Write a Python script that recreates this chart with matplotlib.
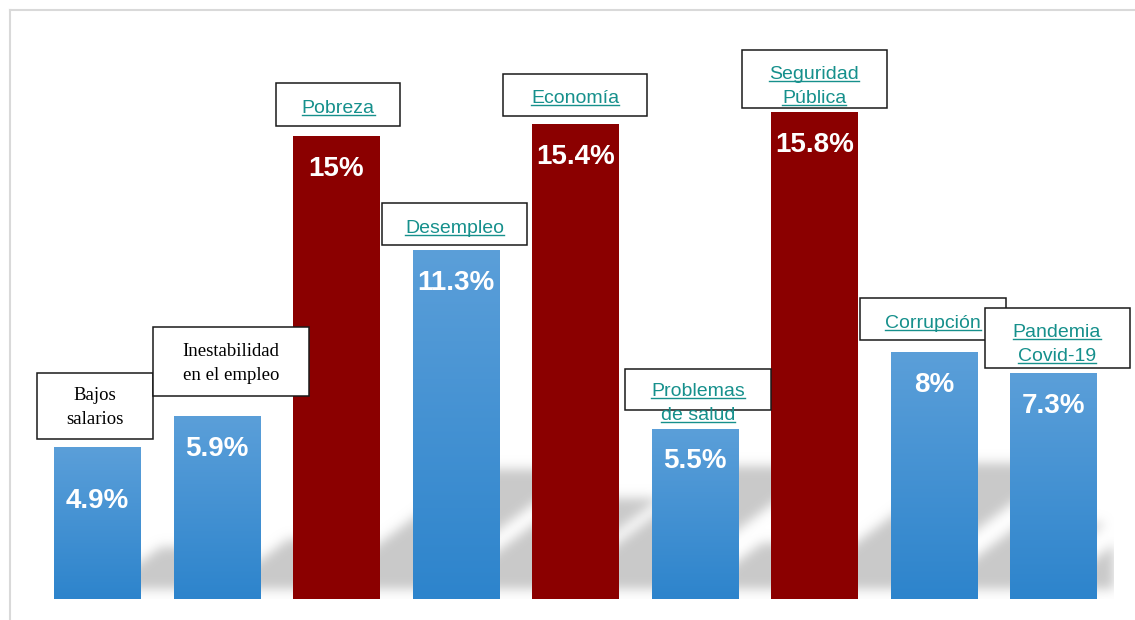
import numpy as np
import matplotlib
matplotlib.use("Agg")
import matplotlib.pyplot as plt
from matplotlib.colors import LinearSegmentedColormap
from matplotlib.patches import Rectangle
from matplotlib.lines import Line2D
from matplotlib.transforms import IdentityTransform

# datos
labels = ["Bajos\nsalarios", "Inestabilidad\nen el empleo", "Pobreza", "Desempleo",
          "Economía", "Problemas\nde salud", "Seguridad\nPública", "Corrupción",
          "Pandemia\nCovid-19"]
values = [4.9, 5.9, 15, 11.3, 15.4, 5.5, 15.8, 8, 7.3]
value_text = ["4.9%", "5.9%", "15%", "11.3%", "15.4%", "5.5%", "15.8%", "8%", "7.3%"]
highlight = [False, False, True, False, True, False, True, False, False]

# estilo / posiciones de las cajas (pixeles): dx, hueco sobre la barra, ancho, alto, dy texto
box_layout = [(-2.5, 9, 116, 66, -2), (14, 21, 156, 69, -2), (1.5, 10, 124, 43, -4),
              (-1.5, 5, 145, 42, -4), (-0.5, 8, 144, 42, -4), (3, 19, 146, 41, -14),
              (-0.5, 4, 145, 58, -8), (-1, 12, 146, 42, -4), (3.5, 6, 145, 60, -7)]
serif_label = [True, True, False, False, False, False, False, False, False]
value_dy = [-53, -32, -33, -33, -33, -32, -33, -33, -32]

RED = "#8B0000"
TEAL = "#16908C"
BLUE_TOP = "#5B9FD9"
BLUE_BOT = "#2D84CC"

W, H, DPI = 1135, 620, 100
fig = plt.figure(figsize=(W / DPI, H / DPI), dpi=DPI)
fig.patch.set_facecolor("white")

# ejes: base en y=599 px, 30.85 px por unidad, 119.5 px entre barras
pxu_x, pxu_y = 119.5, 30.85
n = len(values)
ax_left = 97.5 - pxu_x / 2
ax_w = n * pxu_x
ax_bottom = H - 599
ax_h = 584
ax = fig.add_axes([ax_left / W, ax_bottom / H, ax_w / W, ax_h / H])
ax.set_axis_off()
ytop = ax_h / pxu_y

x = np.arange(n)
bw = 0.72

# sombra difusa (perspectiva) detras de las barras
nx, ny = int(round(ax_w)), int(round(ax_h))
gx = np.arange(nx) + 0.5
gy = np.arange(ny) + 0.5
GX, GY = np.meshgrid(gx, gy)
mask = np.zeros((ny, nx))
s = 0.75
for i, v in enumerate(values):
    cx = (i + 0.5) * pxu_x
    R = cx + bw * pxu_x / 2
    h = v * pxu_y
    tr = 28 + 0.06 * h
    xl = R - tr / s
    xr = R + 27
    hmax = 0.25 * h + 14
    m = (GY >= s * (GX - xr)) & (GY <= s * (GX - xl)) & (GY <= hmax) & (GY >= 10) & (GX >= cx - 43)
    mask = np.maximum(mask, m.astype(float))

sig = 5.5
k = np.arange(-16, 17)
kern = np.exp(-k ** 2 / (2 * sig ** 2))
kern /= kern.sum()
mask = np.apply_along_axis(lambda r: np.convolve(r, kern, mode="same"), 1, mask)
mask = np.apply_along_axis(lambda c: np.convolve(c, kern, mode="same"), 0, mask)
shadow = np.zeros((ny, nx, 4))
shadow[..., :3] = 0.79
shadow[..., 3] = np.clip(mask, 0, 1)
ax.imshow(shadow, extent=(-0.5, n - 0.5, 0, ytop), origin="lower", aspect="auto",
          zorder=1, interpolation="bilinear")

# barras
colors = [RED if hl else BLUE_BOT for hl in highlight]
ax.bar(x, values, width=bw, color=colors, zorder=2)
cmap = LinearSegmentedColormap.from_list("azul", [BLUE_BOT, BLUE_TOP])
grad = np.linspace(0, 1, 256).reshape(-1, 1)
for i, v in enumerate(values):
    if not highlight[i]:
        ax.imshow(grad, extent=(i - bw / 2, i + bw / 2, 0, v), origin="lower",
                  aspect="auto", cmap=cmap, zorder=2.5, interpolation="bilinear")

ax.set_xlim(-0.5, n - 0.5)
ax.set_ylim(0, ytop)

# porcentajes
for i, v in enumerate(values):
    ax.annotate(value_text[i], (i, v), xytext=(0, value_dy[i]), textcoords="offset pixels",
                ha="center", va="center", color="white", fontsize=20,
                fontweight="bold", family="Liberation Sans", zorder=5)

# cajas de etiquetas
fig.canvas.draw()
ident = IdentityTransform()
underline_texts = []
for i, v in enumerate(values):
    dx, gap, bwid, bh, tdy = box_layout[i]
    px, py = ax.transData.transform((i, v))
    bx = px + dx - bwid / 2
    by = py + gap
    fig.add_artist(Rectangle((bx, by), bwid, bh, transform=ident, facecolor="white",
                             edgecolor="#1a1a1a", linewidth=1.1, zorder=6 + i * 0.01))
    lines = labels[i].split("\n")
    pitch = 24
    cy = by + bh / 2 + tdy
    for j, ln in enumerate(lines):
        ly = cy + (len(lines) - 1) * pitch / 2 - j * pitch
        if serif_label[i]:
            fig.text(px + dx, ly, ln, transform=ident, ha="center", va="center",
                     fontsize=13.5, family="Liberation Serif", color="black",
                     zorder=7 + i * 0.01)
        else:
            t = fig.text(px + dx, ly, ln, transform=ident, ha="center", va="center",
                         fontsize=14, family="Liberation Sans", color=TEAL,
                         zorder=7 + i * 0.01)
            underline_texts.append(t)

# subrayado tipo hipervinculo
fig.canvas.draw()
renderer = fig.canvas.get_renderer()
for t in underline_texts:
    bb = t.get_window_extent(renderer)
    em = t.get_fontsize() * DPI / 72
    uy = bb.y0 + 0.11 * em
    fig.add_artist(Line2D([bb.x0, bb.x1], [uy, uy], transform=ident, color=TEAL,
                          linewidth=1.0, zorder=t.get_zorder()))

# marco gris claro
fig.add_artist(Line2D([10, W], [H - 10, H - 10], transform=ident, color="#d9d9d9", linewidth=1.5))
fig.add_artist(Line2D([10, 10], [0, H - 10], transform=ident, color="#d9d9d9", linewidth=1.5))

fig.savefig("out.png", dpi=DPI)
